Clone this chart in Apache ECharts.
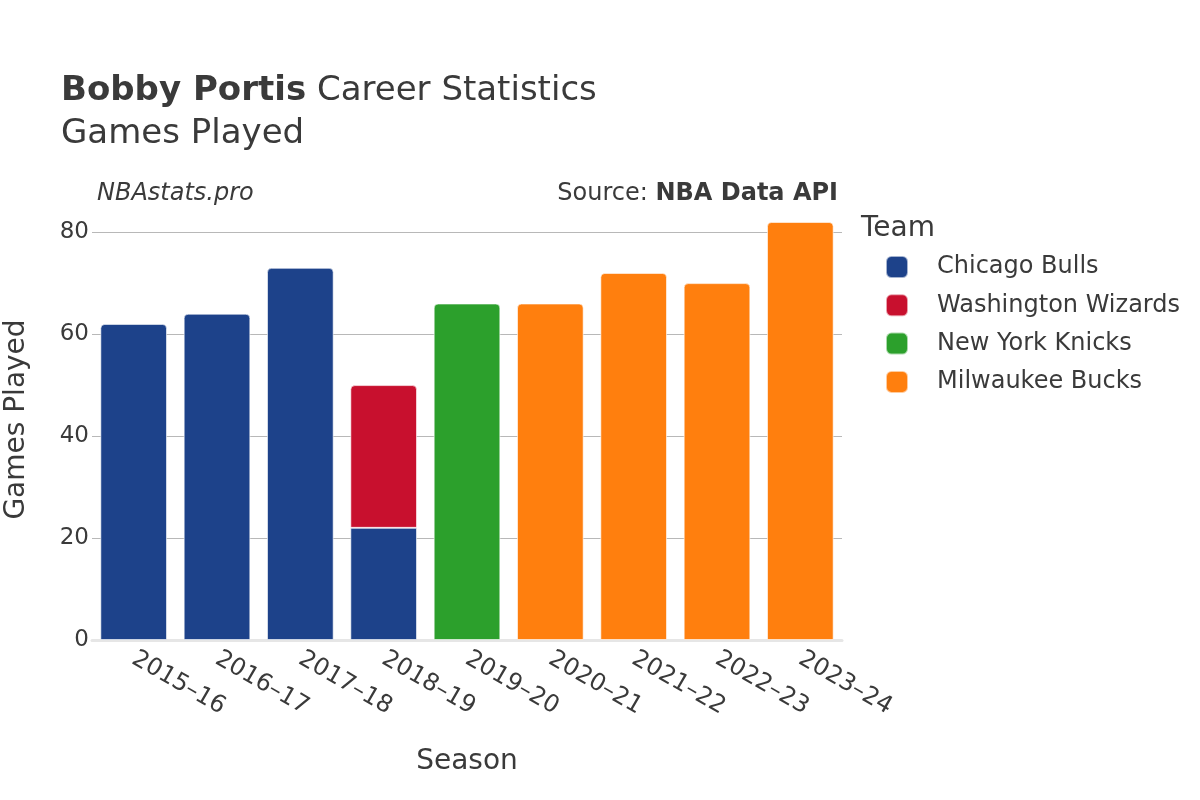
<!DOCTYPE html>
<html>
<head>
<meta charset="utf-8">
<script src="https://cdn.jsdelivr.net/npm/echarts@6/dist/echarts.min.js"></script>
<style>
html,body{margin:0;padding:0;background:#fff;}
#chart{width:1200px;height:800px;}
</style>
</head>
<body>
<div id="chart"></div>
<script>
const seasons = ['2015–16','2016–17','2017–18','2018–19','2019–20','2020–21','2021–22','2022–23','2023–24'];
const teams = ['Chicago Bulls','Washington Wizards','New York Knicks','Milwaukee Bucks'];
const teamColors = ['#1d428a','#c8102e','#2ca02c','#ff7f0e'];
const chicagoBulls      = [62, 64, 73, 22, null, null, null, null, null];
const washingtonWizards = [null, null, null, 28, null, null, null, null, null];
const newYorkKnicks     = [null, null, null, null, 66, null, null, null, null];
const milwaukeeBucks    = [null, null, null, null, null, 66, 72, 70, 82];
const teamValues = [chicagoBulls, washingtonWizards, newYorkKnicks, milwaukeeBucks];
const yTicks = [0, 20, 40, 60, 80];

const font = 'DejaVu Sans';
const txt = '#3a3a3a';
const chart = echarts.init(document.getElementById('chart'));

function isTop(si, i) {
  for (let k = si + 1; k < teamValues.length; k++) {
    if (teamValues[k][i] != null) return false;
  }
  return true;
}

const series = teams.map((name, si) => ({
  name: name,
  type: 'bar',
  stack: 'total',
  barCategoryGap: '20%',
  itemStyle: { color: teamColors[si], borderColor: 'rgba(255,255,255,0.6)', borderWidth: 1 },
  data: teamValues[si].map((v, i) => v == null ? null : {
    value: v,
    itemStyle: { borderRadius: isTop(si, i) ? [4, 4, 0, 0] : 0 }
  })
}));

chart.setOption({
  backgroundColor: '#fff',
  animation: false,
  textStyle: { fontFamily: font },
  title: {
    left: 56, top: 65,
    text: '{b|Bobby Portis} {n|Career Statistics}\n{n|Games Played}',
    textStyle: {
      fontWeight: 'normal', fontFamily: font, fontSize: 34, color: txt,
      rich: {
        b: { fontFamily: font, fontSize: 34, fontWeight: 'bold', color: txt, lineHeight: 43 },
        n: { fontFamily: font, fontSize: 34, fontWeight: 'normal', color: txt, lineHeight: 43 }
      }
    }
  },
  graphic: [
    { type: 'text', left: 97, top: 182, style: { text: 'NBAstats.pro', font: 'italic 24px "DejaVu Sans"', fill: txt } },
    { type: 'text', right: 362, top: 182, style: {
      text: '{n|Source: }{b|NBA Data API}',
      rich: {
        n: { fontFamily: font, fontSize: 24, fill: txt },
        b: { fontFamily: font, fontSize: 24, fontWeight: 'bold', fill: txt }
      } } },
    { type: 'text', left: 861, top: 215, style: { text: 'Team', font: '28px "DejaVu Sans"', fill: txt } }
  ],
  legend: {
    orient: 'vertical',
    left: 880, top: 250,
    itemWidth: 22, itemHeight: 22, itemGap: 14.3,
    icon: 'roundRect',
    data: teams,
    textStyle: { fontFamily: font, fontSize: 24, color: txt, padding: [0, 0, 0, 24] }
  },
  grid: { left: 92, right: 358, top: 199, bottom: 160, containLabel: false, outerBoundsMode: 'none' },
  xAxis: {
    type: 'category',
    data: seasons,
    name: 'Season',
    nameLocation: 'middle',
    nameGap: 108,
    nameTextStyle: { fontFamily: font, fontSize: 28, color: txt },
    axisLine: { lineStyle: { color: '#e6e6e6', width: 3 } },
    axisTick: { show: false },
    axisLabel: { rotate: -30, fontFamily: font, fontSize: 24, color: txt, margin: 17 }
  },
  yAxis: {
    type: 'value',
    min: 0, max: 86.5, interval: 20,
    name: 'Games Played',
    nameLocation: 'middle',
    nameGap: 61,
    nameTextStyle: { fontFamily: font, fontSize: 28, color: txt },
    axisLine: { show: false },
    axisTick: { show: false },
    axisLabel: {
      fontFamily: font, fontSize: 23, color: txt, margin: 3,
      showMaxLabel: false,
      formatter: v => yTicks.includes(v) ? String(v) : ''
    },
    splitLine: { show: true, showMaxLine: false, lineStyle: { color: '#b8b8b8', width: 1 } }
  },
  series: series
});
</script>
</body>
</html>
